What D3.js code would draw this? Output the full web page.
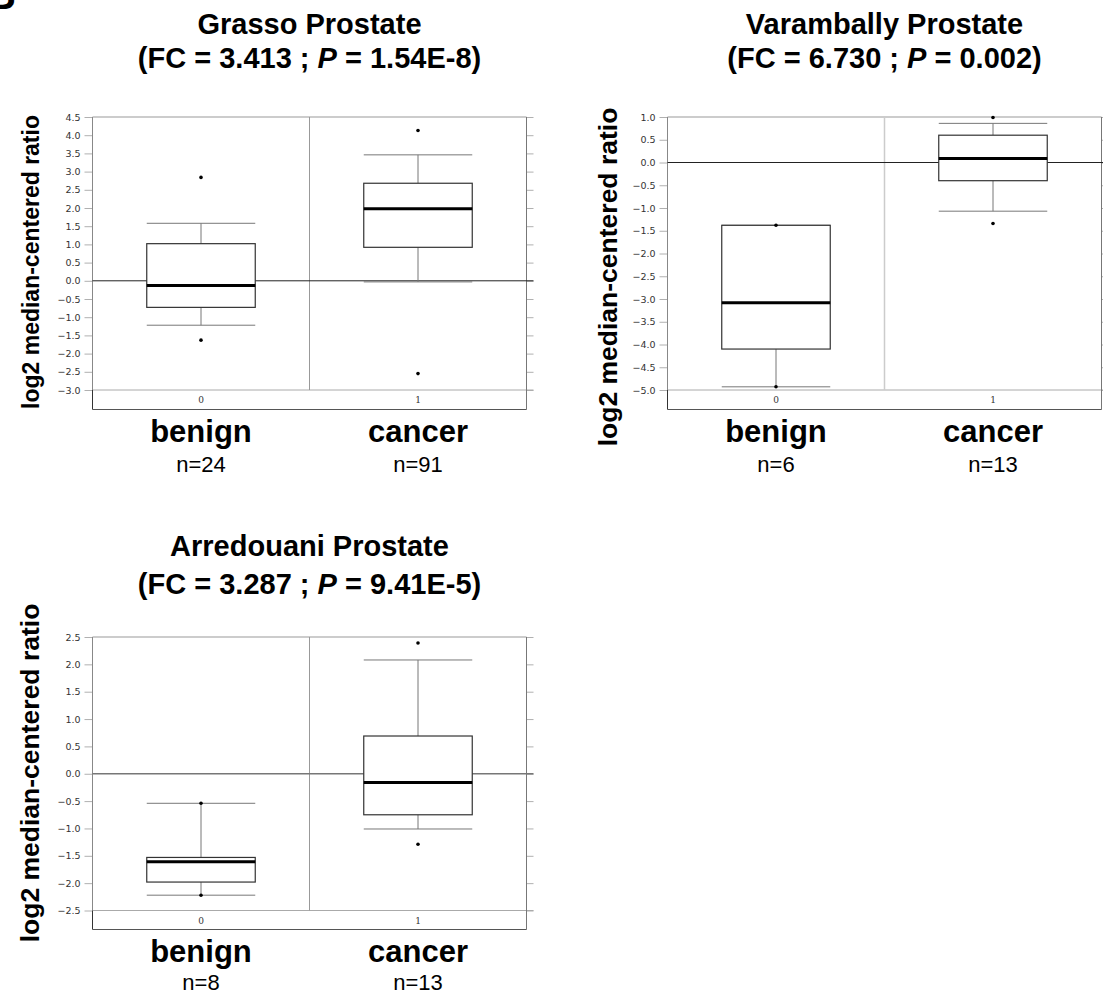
<!DOCTYPE html>
<html>
<head>
<meta charset="utf-8">
<script src="https://cdn.jsdelivr.net/npm/d3@7"></script>
<style>
  body { margin: 0; background: #fff; }
  svg { display: block; font-family: "Liberation Sans", Arial, sans-serif; }
</style>
</head>
<body>
<div id="chart"></div>
<script>
// groups on the x axis
var groups = ["benign", "cancer"];
var groupCodes = ["0", "1"];

// dataset titles
var datasets = ["Grasso Prostate", "Varambally Prostate", "Arredouani Prostate"];
var foldChanges = ["3.413", "6.730", "3.287"];
var pValues = ["1.54E-8", "0.002", "9.41E-5"];
var sampleSizes = [[24, 91], [6, 13], [8, 13]];
var yDomains = [[-3.0, 4.5], [-5.0, 1.0], [-2.5, 2.5]];

// box stats per group: [lower whisker, Q1, median, Q3, upper whisker]
var grassoBoxes = [[-1.22, -0.73, -0.13, 1.02, 1.58], [-0.03, 0.92, 1.98, 2.68, 3.46]];
var varamballyBoxes = [[-4.93, -4.10, -3.08, -1.38, -1.38], [-1.07, -0.40, 0.09, 0.60, 0.86]];
var arredouaniBoxes = [[-2.22, -1.98, -1.61, -1.53, -0.54], [-1.01, -0.75, -0.16, 0.69, 2.08]];

// outlier points per group
var grassoOutliers = [[2.84, -1.63], [4.13, -2.55]];
var varamballyOutliers = [[-1.38, -4.93], [0.99, -1.34]];
var arredouaniOutliers = [[-0.54, -2.22], [2.39, -1.29]];

var boxes = [grassoBoxes, varamballyBoxes, arredouaniBoxes];
var outliers = [grassoOutliers, varamballyOutliers, arredouaniOutliers];

// where each panel sits on the page
var layout = [
  {left: 92.5, right: 526.5, top: 117, bottom: 390, frameBottom: 409.5, t1: 34, t2: 68, yTitleX: 33, yTitleY: 262, yTitleSize: 23, nGap: 62},
  {left: 667.5, right: 1101.5, top: 117, bottom: 390, frameBottom: 409.5, t1: 34, t2: 68, yTitleX: 610, yTitleY: 277, yTitleSize: 26.5, nGap: 62},
  {left: 92.5, right: 526.5, top: 637, bottom: 910.5, frameBottom: 929.5, t1: 556, t2: 594, yTitleX: 32, yTitleY: 773, yTitleSize: 26.5, nGap: 60}
];

var svg = d3.select("#chart")
  .append("svg")
    .attr("width", 1103)
    .attr("height", 993);

// panel letter, cut off at the top edge
svg.append("text")
  .attr("x", -13)
  .attr("y", 9)
  .attr("font-size", 40)
  .attr("font-weight", "bold")
  .text("B");

datasets.forEach(function (name, i) {
  var L = layout[i];
  var g = svg.append("g");

  var x = d3.scaleBand()
    .domain(groups)
    .range([L.left, L.right]);

  var y = d3.scaleLinear()
    .domain(yDomains[i])
    .range([L.bottom, L.top]);

  var tickVals = d3.range(yDomains[i][0], yDomains[i][1] + 0.01, 0.5);

  // left axis with labels
  var yAxis = g.append("g")
    .attr("transform", "translate(" + L.left + ",0)")
    .call(d3.axisLeft(y).tickValues(tickVals).tickFormat(d3.format(".1f")).tickSize(8).tickPadding(4));
  yAxis.select(".domain").remove();
  yAxis.selectAll("line").attr("stroke", "#b0b0b0");
  yAxis.selectAll("text")
    .attr("fill", "#333")
    .attr("font-size", 9.5)
    .attr("font-family", "DejaVu Sans, sans-serif");

  // right axis, ticks only
  var yAxisR = g.append("g")
    .attr("transform", "translate(" + L.right + ",0)")
    .call(d3.axisRight(y).tickValues(tickVals).tickFormat("").tickSize(7));
  yAxisR.select(".domain").remove();
  yAxisR.selectAll("line").attr("stroke", "#b0b0b0");

  // frame and grid lines
  g.append("line")
    .attr("x1", L.left).attr("x2", L.right)
    .attr("y1", y(yDomains[i][1])).attr("y2", y(yDomains[i][1]))
    .attr("stroke", "#999");
  g.append("line")
    .attr("x1", L.left).attr("x2", L.right + 7)
    .attr("y1", y(yDomains[i][0])).attr("y2", y(yDomains[i][0]))
    .attr("stroke", "#aaa");
  g.append("line")
    .attr("x1", L.left).attr("x2", L.left)
    .attr("y1", L.top).attr("y2", L.bottom)
    .attr("stroke", "#888");
  g.append("line")
    .attr("x1", L.left).attr("x2", L.left)
    .attr("y1", L.bottom).attr("y2", L.frameBottom)
    .attr("stroke", "#333");
  g.append("line")
    .attr("x1", L.right).attr("x2", L.right)
    .attr("y1", L.top).attr("y2", L.frameBottom)
    .attr("stroke", "#777");
  g.append("line")
    .attr("x1", L.left).attr("x2", L.right)
    .attr("y1", L.frameBottom).attr("y2", L.frameBottom)
    .attr("stroke", "#555");

  // separator between groups
  g.append("line")
    .attr("x1", x(groups[1])).attr("x2", x(groups[1]))
    .attr("y1", L.top).attr("y2", L.bottom)
    .attr("stroke", i == 1 ? "#ccc" : "#999")
    .attr("stroke-width", i == 1 ? 1.5 : 1);

  // zero line
  g.append("line")
    .attr("x1", L.left).attr("x2", L.right + 7)
    .attr("y1", y(0)).attr("y2", y(0))
    .attr("stroke", i == 2 ? "#777" : "#222")
    .attr("stroke-width", i == 2 ? 1.5 : 1);

  // group codes under the plot area
  g.selectAll(".code")
    .data(groupCodes)
    .enter()
    .append("text")
      .attr("x", (d, j) => x(groups[j]) + x.bandwidth() / 2)
      .attr("y", (L.bottom + L.frameBottom) / 2 + 3.5)
      .attr("text-anchor", "middle")
      .attr("font-size", 9)
      .attr("font-family", "DejaVu Serif, serif")
      .attr("fill", "#333")
      .text(d => d);

  // box plots
  var bw = x.bandwidth() / 2;
  var box = g.selectAll(".box")
    .data(boxes[i])
    .enter()
    .append("g")
      .attr("transform", (d, j) => "translate(" + (x(groups[j]) + x.bandwidth() / 2) + ",0)");

  box.append("line")
    .attr("x1", 0).attr("x2", 0)
    .attr("y1", d => y(d[4])).attr("y2", d => y(d[3]))
    .attr("stroke", "#777");
  box.append("line")
    .attr("x1", 0).attr("x2", 0)
    .attr("y1", d => y(d[1])).attr("y2", d => y(d[0]))
    .attr("stroke", "#777");
  box.append("line")
    .attr("x1", -bw / 2).attr("x2", bw / 2)
    .attr("y1", d => y(d[4])).attr("y2", d => y(d[4]))
    .attr("stroke", "#777");
  box.append("line")
    .attr("x1", -bw / 2).attr("x2", bw / 2)
    .attr("y1", d => y(d[0])).attr("y2", d => y(d[0]))
    .attr("stroke", "#777");
  box.append("rect")
    .attr("x", -bw / 2)
    .attr("width", bw)
    .attr("y", d => y(d[3]))
    .attr("height", d => y(d[1]) - y(d[3]))
    .attr("fill", "#fff")
    .attr("stroke", "#333")
    .attr("stroke-width", 1.2);
  box.append("line")
    .attr("x1", -bw / 2).attr("x2", bw / 2)
    .attr("y1", d => y(d[2])).attr("y2", d => y(d[2]))
    .attr("stroke", "#000")
    .attr("stroke-width", 3);

  // outliers
  outliers[i].forEach(function (pts, j) {
    g.selectAll(null)
      .data(pts)
      .enter()
      .append("circle")
        .attr("cx", x(groups[j]) + x.bandwidth() / 2)
        .attr("cy", d => y(d))
        .attr("r", 1.8)
        .attr("fill", "#000");
  });

  // group names and sizes
  groups.forEach(function (grp, j) {
    var cx = x(grp) + x.bandwidth() / 2;
    g.append("text")
      .attr("x", cx)
      .attr("y", L.frameBottom + 32)
      .attr("text-anchor", "middle")
      .attr("font-size", 31)
      .attr("font-weight", "bold")
      .text(grp);
    g.append("text")
      .attr("x", cx)
      .attr("y", L.frameBottom + L.nGap)
      .attr("text-anchor", "middle")
      .attr("font-size", 22)
      .text("n=" + sampleSizes[i][j]);
  });

  // titles
  var cx = (L.left + L.right) / 2;
  g.append("text")
    .attr("x", cx)
    .attr("y", L.t1)
    .attr("text-anchor", "middle")
    .attr("font-size", 29)
    .attr("font-weight", "bold")
    .text(name);
  var t2 = g.append("text")
    .attr("x", cx)
    .attr("y", L.t2)
    .attr("text-anchor", "middle")
    .attr("font-size", 29)
    .attr("font-weight", "bold");
  t2.append("tspan").text("(FC = " + foldChanges[i] + " ; ");
  t2.append("tspan").attr("font-style", "italic").text("P");
  t2.append("tspan").text(" = " + pValues[i] + ")");

  // y axis title
  g.append("text")
    .attr("transform", "translate(" + L.yTitleX + "," + L.yTitleY + ") rotate(-90)")
    .attr("text-anchor", "middle")
    .attr("dy", "0.26em")
    .attr("font-size", L.yTitleSize)
    .attr("font-weight", "bold")
    .text("log2 median-centered ratio");
});
</script>
</body>
</html>
